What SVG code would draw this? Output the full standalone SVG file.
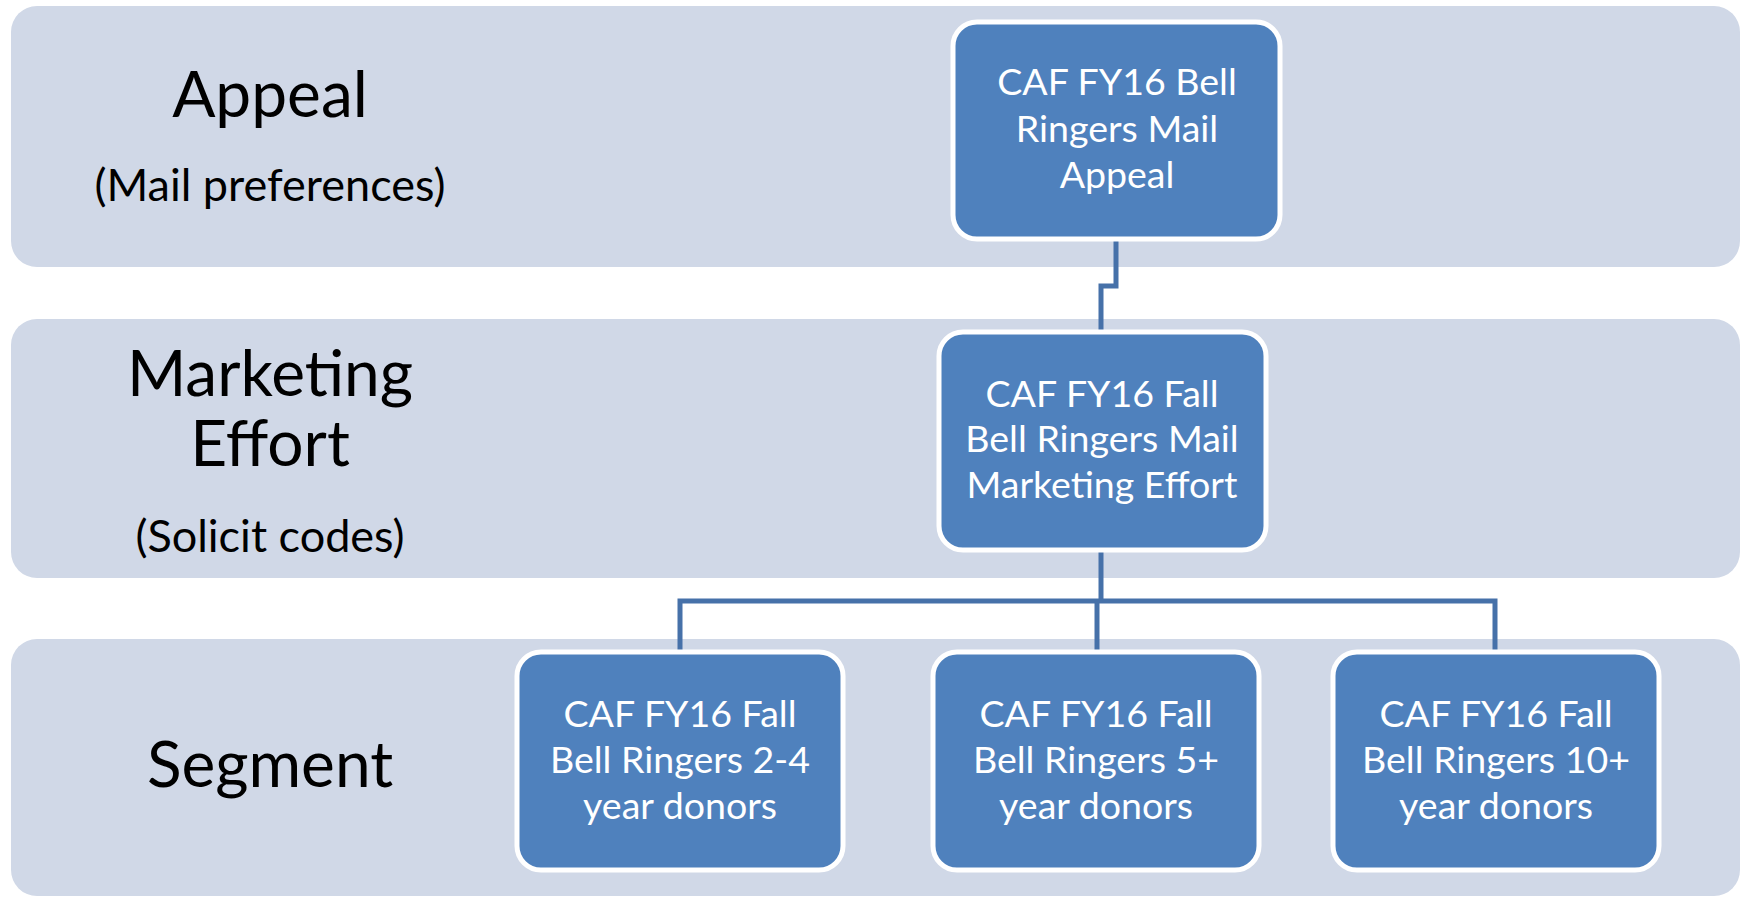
<svg xmlns="http://www.w3.org/2000/svg" width="1743" height="898" viewBox="0 0 1743 898">
<style>
.band{fill:#D0D8E7}
.node{fill:#4F81BD;stroke:#FFFFFF;stroke-width:5}
.nt{font-family:Lato,"Open Sans",sans-serif;font-size:37.5px;fill:#FFFFFF;text-anchor:middle}
.lbl{font-family:Lato,"Open Sans",sans-serif;fill:#000000;text-anchor:middle}
.big{font-size:64px}
.small{font-size:45px}
.conn{fill:none;stroke:#4671A9;stroke-width:5}
</style>
<rect width="1743" height="898" fill="#FFFFFF"/>
<g id="bands">
<rect class="band" x="11" y="6" width="1729" height="261" rx="26"/>
<rect class="band" x="11" y="319" width="1729" height="259" rx="26"/>
<rect class="band" x="11" y="639" width="1729" height="257" rx="26"/>
</g>
<g id="labels">
<text class="lbl big" x="270" y="117">Appeal</text>
<text class="lbl small" x="270" y="201">(Mail preferences)</text>
<text class="lbl big" x="270" y="396">Marketing</text>
<text class="lbl big" x="270" y="466">Effort</text>
<text class="lbl small" x="270" y="552">(Solicit codes)</text>
<text class="lbl big" x="270" y="787">Segment</text>
</g>
<g id="connectors">
<path class="conn" d="M1116 240 V286 H1101 V331"/>
<path class="conn" d="M1101 550 V601"/>
<path class="conn" d="M680 652 V601 H1495 V652"/>
<path class="conn" d="M1097 601 V652"/>
</g>
<g id="node-appeal">
<rect class="node" x="953" y="22" width="327" height="217" rx="24"/>
<text class="nt" x="1117" y="95">CAF FY16 Bell</text>
<text class="nt" x="1117" y="142">Ringers Mail</text>
<text class="nt" x="1117" y="188">Appeal</text>
</g>
<g id="node-effort">
<rect class="node" x="939" y="332" width="327" height="218" rx="24"/>
<text class="nt" x="1102" y="407">CAF FY16 Fall</text>
<text class="nt" x="1102" y="452">Bell Ringers Mail</text>
<text class="nt" x="1102" y="498">Marketing Effort</text>
</g>
<g id="node-seg1">
<rect class="node" x="517" y="652" width="326" height="218" rx="24"/>
<text class="nt" x="680" y="727">CAF FY16 Fall</text>
<text class="nt" x="680" y="773">Bell Ringers 2-4</text>
<text class="nt" x="680" y="819">year donors</text>
</g>
<g id="node-seg2">
<rect class="node" x="933" y="652" width="326" height="218" rx="24"/>
<text class="nt" x="1096" y="727">CAF FY16 Fall</text>
<text class="nt" x="1096" y="773">Bell Ringers 5+</text>
<text class="nt" x="1096" y="819">year donors</text>
</g>
<g id="node-seg3">
<rect class="node" x="1333" y="652" width="326" height="218" rx="24"/>
<text class="nt" x="1496" y="727">CAF FY16 Fall</text>
<text class="nt" x="1496" y="773">Bell Ringers 10+</text>
<text class="nt" x="1496" y="819">year donors</text>
</g>
</svg>
